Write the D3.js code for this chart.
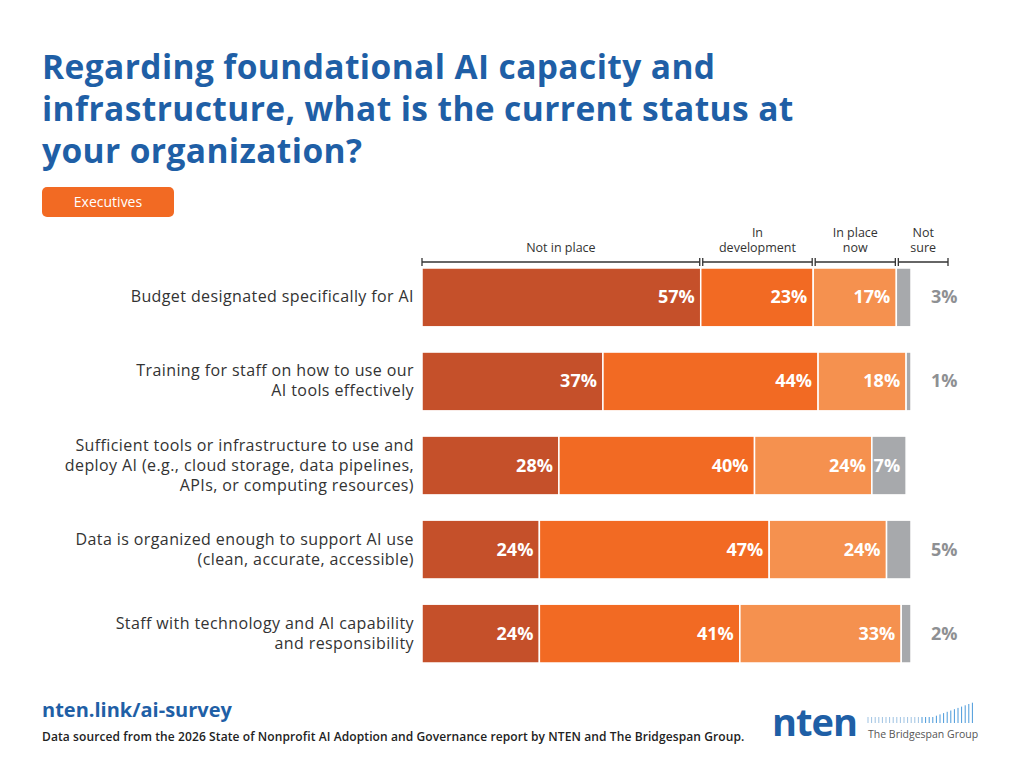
<!DOCTYPE html>
<html><head><meta charset="utf-8">
<script src="https://cdn.jsdelivr.net/npm/d3@7"></script>
<style>body{margin:0;background:#fff;font-family:"Open Sans",sans-serif}</style>
</head><body><svg id="c" width="1024" height="768"></svg>
<script>
const categories=[["Budget designated specifically for AI"],["Training for staff on how to use our","AI tools effectively"],["Sufficient tools or infrastructure to use and","deploy AI (e.g., cloud storage, data pipelines,","APIs, or computing resources)"],["Data is organized enough to support AI use","(clean, accurate, accessible)"],["Staff with technology and AI capability","and responsibility"]];
const seriesNames=[["Not in place"],["In","development"],["In place","now"],["Not","sure"]];
const notInPlace=[57,37,28,24,24];
const inDevelopment=[23,44,40,47,41];
const inPlaceNow=[17,18,24,24,33];
const notSure=[3,1,7,5,2];
const colors=["#C5502A","#F26A23","#F5914F","#A7A9AC"];
const series=[notInPlace,inDevelopment,inPlaceNow,notSure];
const svg=d3.select("#c");
const blue="#1F5FA6";
svg.append("text").attr("x",42).attr("y",0).attr("fill",blue).attr("font-size",33.5).attr("font-weight",700).attr("letter-spacing",0.4)
 .selectAll("tspan").data(["Regarding foundational AI capacity and","infrastructure, what is the current status at","your organization?"]).join("tspan").attr("x",42).attr("y",(d,i)=>79+i*42).text(d=>d);
svg.append("rect").attr("x",42).attr("y",187).attr("width",132).attr("height",30).attr("rx",5).attr("fill","#F26A23");
svg.append("text").attr("x",108).attr("y",207).attr("text-anchor","middle").attr("fill","#fff").attr("font-size",14).text("Executives");
const x=d3.scaleLinear().domain([0,100]).range([422,911]);
const y=d3.scaleBand().domain(d3.range(5)).range([268,663]).paddingInner(0.3).paddingOuter(0);
const g=svg.append("g");
categories.forEach((cat,i)=>{
  let cum=0;
  series.forEach((s,j)=>{
    const v=s[i];const x0=x(cum),x1=x(cum+v);cum+=v;
    g.append("rect").attr("x",x0).attr("y",y(i)).attr("width",x1-x0).attr("height",y.bandwidth()).attr("fill",colors[j]).attr("stroke","#fff").attr("stroke-width",1.5);
    const inside=(x1-x0)>30;
    g.append("text").attr("x",inside?x1-6:x1+20).attr("y",y(i)+y.bandwidth()/2+6).attr("text-anchor",inside?"end":"start")
     .attr("fill",inside?"#fff":"#8E9093").attr("font-size",18).attr("font-weight",700).text(v+"%");
  });
  const cy=y(i)+y.bandwidth()/2;
  g.append("text").attr("text-anchor","end").attr("fill","#333").attr("font-size",16).attr("letter-spacing",0.4)
   .selectAll("tspan").data(cat).join("tspan").attr("x",414).attr("y",(d,k)=>cy+5+(k-(cat.length-1)/2)*20).text(d=>d);
});
const ends=[[x(0),x(57)-1],[x(57)+2,x(80)-1],[x(80)+2,x(97)-1],[x(97)+2,948]];
ends.forEach((e,j)=>{
  const yy=262;
  svg.append("line").attr("x1",e[0]).attr("x2",e[1]).attr("y1",yy).attr("y2",yy).attr("stroke","#333").attr("stroke-width",1.3);
  [e[0],e[1]].forEach(xx=>svg.append("line").attr("x1",xx).attr("x2",xx).attr("y1",yy-4).attr("y2",yy+4).attr("stroke","#333").attr("stroke-width",1.3));
  const lines=seriesNames[j];const cx=(e[0]+e[1])/2;
  svg.append("text").attr("text-anchor","middle").attr("fill","#333").attr("font-size",12.5)
   .selectAll("tspan").data(lines).join("tspan").attr("x",cx).attr("y",(d,k)=>252-(lines.length-1-k)*15).text(d=>d);
});
svg.append("text").attr("x",42).attr("y",717).attr("fill",blue).attr("font-size",20).attr("font-weight",700).text("nten.link/ai-survey");
svg.append("text").attr("x",42).attr("y",741).attr("fill","#222").attr("font-size",12).attr("font-weight",600).attr("letter-spacing",0.1).text("Data sourced from the 2026 State of Nonprofit AI Adoption and Governance report by NTEN and The Bridgespan Group.");
svg.append("text").attr("x",772).attr("y",736).attr("fill",blue).attr("font-size",38).attr("font-weight",700).attr("letter-spacing",-1).text("nten");
for(let k=0;k<30;k++){svg.append("line").attr("x1",868+k*3.6).attr("x2",868+k*3.6).attr("y1",723-(k<18?6:6+(k-18)*1.3)).attr("y2",723).attr("stroke",k<15?"#9FC3E3":"#4A9ADB").attr("stroke-width",1);}
svg.append("text").attr("x",868).attr("y",738).attr("fill","#555").attr("font-size",10.5).text("The Bridgespan Group");
</script></body></html>
